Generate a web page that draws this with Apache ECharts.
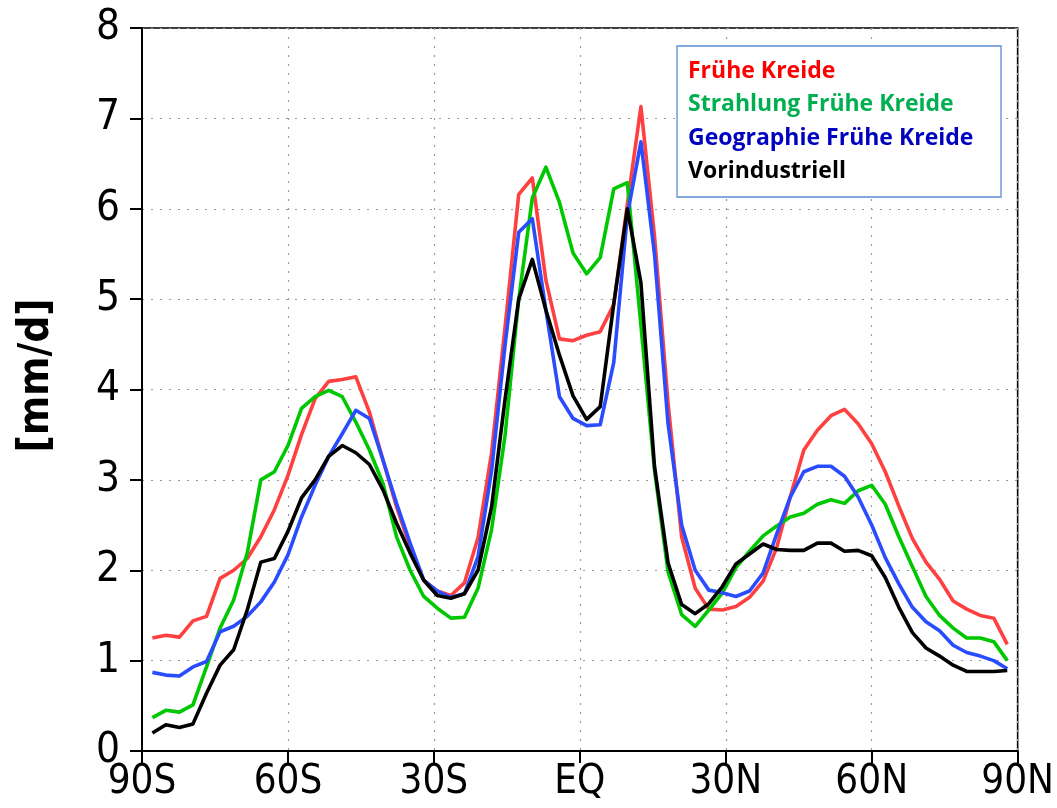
<!DOCTYPE html>
<html>
<head>
<meta charset="utf-8">
<script src="https://cdn.jsdelivr.net/npm/echarts@6/dist/echarts.min.js"></script>
<style>
html,body{margin:0;padding:0;background:#fff;}
#chart{width:1057px;height:808px;}
</style>
</head>
<body>
<div id="chart"></div>
<script>
// Gaussian (T42) latitudes, south to north
const latitudes = [-87.864,-85.097,-82.313,-79.526,-76.737,-73.948,-71.158,-68.368,-65.578,-62.787,
  -59.997,-57.207,-54.416,-51.626,-48.835,-46.045,-43.254,-40.464,-37.673,-34.883,
  -32.092,-29.301,-26.511,-23.720,-20.930,-18.139,-15.348,-12.558,-9.767,-6.977,
  -4.186,-1.395,1.395,4.186,6.977,9.767,12.558,15.348,18.139,20.930,
  23.720,26.511,29.301,32.092,34.883,37.673,40.464,43.254,46.045,48.835,
  51.626,54.416,57.207,59.997,62.787,65.578,68.368,71.158,73.948,76.737,
  79.526,82.313,85.097,87.864];

const seriesNames = ['Frühe Kreide','Strahlung Frühe Kreide','Geographie Frühe Kreide','Vorindustriell'];

const fruheKreide = [1.25,1.28,1.26,1.44,1.49,1.91,2.00,2.13,2.37,2.67,
  3.05,3.50,3.90,4.09,4.11,4.14,3.75,3.22,2.70,2.26,
  1.89,1.77,1.72,1.86,2.36,3.30,4.70,6.16,6.34,5.21,
  4.56,4.54,4.60,4.64,4.94,6.05,7.13,5.70,3.85,2.37,
  1.80,1.57,1.56,1.60,1.70,1.88,2.25,2.81,3.33,3.55,
  3.71,3.78,3.62,3.40,3.09,2.71,2.35,2.09,1.90,1.66,
  1.57,1.50,1.47,1.18];

const strahlung = [0.37,0.45,0.43,0.51,0.93,1.36,1.67,2.19,3.00,3.09,
  3.38,3.79,3.92,3.99,3.92,3.64,3.33,2.96,2.37,2.00,
  1.71,1.58,1.47,1.48,1.80,2.45,3.50,5.00,6.12,6.46,
  6.07,5.51,5.28,5.46,6.22,6.29,4.71,3.11,1.98,1.51,
  1.38,1.56,1.75,2.03,2.21,2.38,2.49,2.59,2.63,2.73,
  2.78,2.74,2.88,2.94,2.73,2.37,2.04,1.71,1.50,1.36,
  1.25,1.25,1.21,1.00];

const geographie = [0.87,0.84,0.83,0.93,0.99,1.32,1.38,1.49,1.65,1.87,
  2.17,2.59,2.94,3.26,3.51,3.77,3.68,3.22,2.74,2.30,
  1.89,1.77,1.70,1.74,2.15,3.10,4.50,5.74,5.89,4.88,
  3.92,3.68,3.60,3.61,4.30,5.93,6.74,5.50,3.62,2.50,
  2.00,1.78,1.75,1.71,1.77,1.97,2.40,2.81,3.09,3.15,
  3.15,3.04,2.81,2.50,2.14,1.85,1.59,1.43,1.33,1.17,
  1.09,1.05,1.00,0.91];

const vorindustriell = [0.20,0.29,0.26,0.30,0.64,0.95,1.12,1.56,2.09,2.13,
  2.43,2.80,3.00,3.26,3.38,3.30,3.17,2.89,2.52,2.19,
  1.89,1.72,1.69,1.74,2.00,2.70,3.90,5.00,5.44,4.88,
  4.38,3.93,3.67,3.81,4.95,6.00,5.18,3.15,2.08,1.62,
  1.52,1.63,1.82,2.07,2.18,2.29,2.23,2.22,2.22,2.30,
  2.30,2.21,2.22,2.16,1.92,1.59,1.31,1.14,1.05,0.95,
  0.88,0.88,0.88,0.89];

const xTickValues = [-90,-60,-30,0,30,60,90];
const xTickLabels = ['90S','60S','30S','EQ','30N','60N','90N'];
const yAxisName = '[mm/d]';

const lineColors = ['#ff4040','#00c800','#2a4cff','#000000'];
const legendColors = ['#ff0000','#00b050','#0000c0','#000000'];
const allValues = [fruheKreide, strahlung, geographie, vorindustriell];

const chart = echarts.init(document.getElementById('chart'), null, {renderer:'canvas'});

const series = allValues.map((vals, k) => ({
  name: seriesNames[k],
  type: 'line',
  data: latitudes.map((lat, i) => [lat, vals[i]]),
  showSymbol: false,
  symbol: 'none',
  lineStyle: {color: lineColors[k], width: 3.6, join: 'round'},
  itemStyle: {color: lineColors[k]},
  z: 2 + k,
  animation: false
}));

const legendX = 688, legendTop = 71, legendStep = 33.5;
const graphics = [{
  type: 'rect',
  shape: {x: 677, y: 46, width: 324, height: 151},
  style: {fill: '#ffffff', stroke: '#5b8dd6', lineWidth: 1.3},
  z: 100
}];
seriesNames.forEach((n, k) => {
  graphics.push({
    type: 'text',
    x: legendX, y: legendTop + k * legendStep,
    style: {
      text: n, fill: legendColors[k],
      font: 'bold 23px "Open Sans", sans-serif',
      textVerticalAlign: 'middle', verticalAlign: 'middle'
    },
    z: 101
  });
});

chart.setOption({
  animation: false,
  backgroundColor: '#ffffff',
  grid: {left: 142, right: 39, top: 28, bottom: 57, show: true, borderColor: '#000', borderWidth: 1.6, backgroundColor: 'transparent'},
  xAxis: {
    type: 'value', min: -90, max: 90, interval: 30,
    axisLine: {show: true, onZero: false, lineStyle: {color: '#000', width: 2}},
    axisTick: {show: true, length: 12, lineStyle: {color: '#000', width: 2}},
    axisLabel: {
      margin: 12, color: '#000',
      fontFamily: '"DejaVu Sans Condensed", "DejaVu Sans", sans-serif', fontSize: 40,
      formatter: v => { const i = xTickValues.indexOf(Math.round(v)); return i >= 0 ? xTickLabels[i] : ''; }
    },
    splitLine: {show: true, lineStyle: {color: '#999', width: 1.2, type: [2, 7]}}
  },
  yAxis: {
    type: 'value', min: 0, max: 8, interval: 1,
    name: yAxisName, nameLocation: 'middle', nameRotate: 90, nameGap: 84,
    nameTextStyle: {color: '#000', fontSize: 42, fontWeight: 'bold', fontFamily: '"DejaVu Sans Condensed", "DejaVu Sans", sans-serif', padding: [0, 0, 0, 28]},
    axisLine: {show: true, onZero: false, lineStyle: {color: '#000', width: 2}},
    axisTick: {show: true, length: 12, lineStyle: {color: '#000', width: 2}},
    axisLabel: {margin: 22, color: '#000', fontFamily: '"DejaVu Sans Condensed", "DejaVu Sans", sans-serif', fontSize: 42},
    splitLine: {show: true, lineStyle: {color: '#999', width: 1.2, type: [2, 7]}}
  },
  series: series,
  graphic: graphics
});
</script>
</body>
</html>
